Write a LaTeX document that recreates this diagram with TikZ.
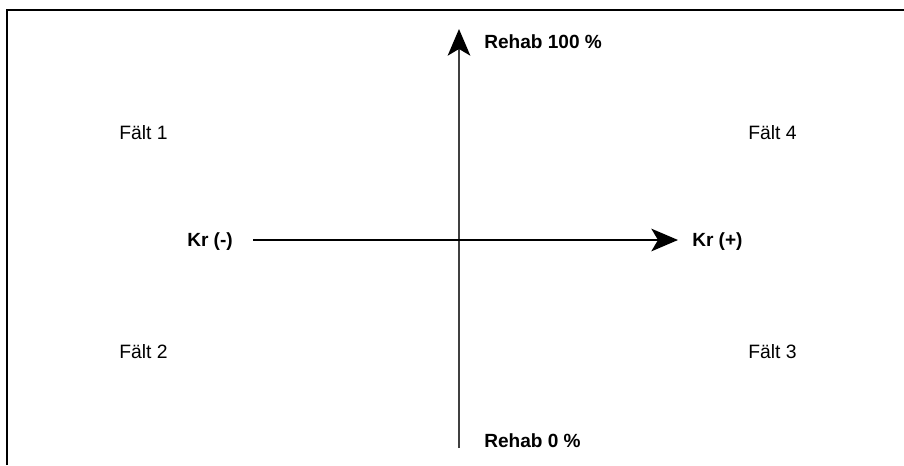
\documentclass[tikz,border=0pt]{standalone}
\usepackage{fontspec}
\setmainfont{Liberation Sans}
\usepackage{tikz}
\usetikzlibrary{arrows.meta, positioning}

\tikzset{
	axislbl/.style={anchor=west, inner sep=0pt, font=\fontsize{14.3}{16}\selectfont\bfseries},
	fieldlbl/.style={anchor=west, inner sep=0pt, font=\fontsize{14.5}{16}\selectfont},
	axisline/.style={line width=1.2pt, -{Stealth[length=20pt, width=17pt, inset=5pt, color=black]}}
}

\begin{document}
\begin{tikzpicture}[x=0.75pt, y=-0.75pt]
			\useasboundingbox (0, 0) rectangle (904, 465);
			% Frame:
			\draw[line width=1.4pt] (7, 465) -- (7, 10) -- (904, 10);
			% Axes ends:
			\coordinate (yB) at (459, 448);
			\coordinate (yT) at (459, 29);
			\coordinate (xL) at (253, 240);
			\coordinate (xR) at (678, 240);
			\draw[axisline, black!75] (yB) -- (yT);
			\draw[axisline] (xL) -- (xR);
			% Labels:
			\node[axislbl](RT) at (484, 42){Rehab 100 \%};
			\node[axislbl](RB) at (484, 441){Rehab 0 \%};
			\node[axislbl](KL) at (187, 242){Kr (-)};
			\node[axislbl](KR) at (692, 242){Kr (+)};
			\node[fieldlbl](F1) at (119, 133){Fält 1};
			\node[fieldlbl](F2) at (119, 352){Fält 2};
			\node[fieldlbl](F3) at (748, 352){Fält 3};
			\node[fieldlbl](F4) at (748, 133){Fält 4};
		\end{tikzpicture}
\end{document}
